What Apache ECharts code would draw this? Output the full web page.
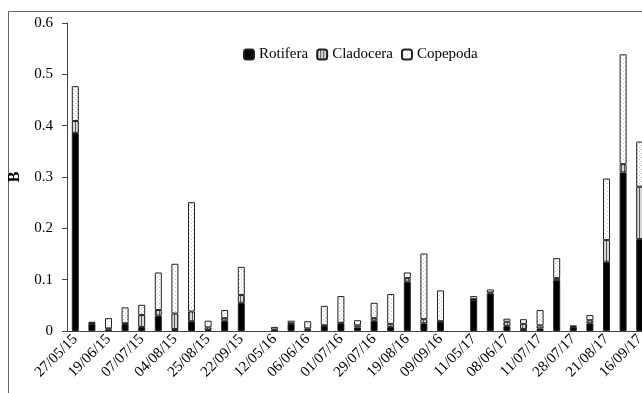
<!DOCTYPE html>
<html>
<head>
<meta charset="utf-8">
<script src="https://cdn.jsdelivr.net/npm/echarts@6/dist/echarts.min.js"></script>
<style>
html,body{margin:0;padding:0;background:#fff;}
#c{width:642px;height:393px;}
</style>
</head>
<body>
<div id="c"></div>
<script>
// Category labels (only every other date is printed in the reference)
const tickLabels = ['27/05/15','', '19/06/15','', '07/07/15','', '04/08/15','', '25/08/15','', '22/09/15','',
  '12/05/16','', '06/06/16','', '01/07/16','', '29/07/16','', '19/08/16','', '09/09/16','',
  '11/05/17','', '08/06/17','', '11/07/17','', '28/07/17','', '21/08/17','', '16/09/17'];
const rotifera  = [0.386,0.014,0.003,0.014,0.008,0.030,0.004,0.019,0.002,0.020,0.055,0,
  0.001,0.014,0.002,0.010,0.015,0.007,0.020,0.008,0.096,0.015,0.018,0,
  0.061,0.073,0.010,0.004,0.005,0.099,0.007,0.015,0.135,0.309,0.179];
const cladocera = [0.023,0.001,0.002,0.001,0.023,0.011,0.030,0.019,0.005,0.005,0.015,0,
  0.002,0.001,0.003,0.001,0.001,0.004,0.005,0.006,0.007,0.008,0.001,0,
  0.001,0.002,0.008,0.010,0.006,0.004,0.001,0.006,0.042,0.016,0.102];
const copepoda  = [0.068,0.003,0.020,0.031,0.020,0.073,0.097,0.213,0.013,0.016,0.055,0,
  0.005,0.005,0.014,0.038,0.052,0.010,0.030,0.058,0.011,0.128,0.060,0,
  0.006,0.006,0.006,0.009,0.030,0.039,0.003,0.010,0.120,0.214,0.088];
const yTicks = [0,0.1,0.2,0.3,0.4,0.5,0.6];

function stripePattern(){
  const c=document.createElement('canvas'); c.width=3; c.height=3;
  const g=c.getContext('2d');
  g.fillStyle='#d8d8d8'; g.fillRect(0,0,3,3);
  g.fillStyle='#555'; g.fillRect(0,0,1,3);
  return {image:c, repeat:'repeat'};
}
function dotPattern(){
  const c=document.createElement('canvas'); c.width=4; c.height=4;
  const g=c.getContext('2d');
  g.fillStyle='#fff'; g.fillRect(0,0,4,4);
  g.fillStyle='#bbb'; g.fillRect(1,1,1,1); g.fillRect(3,3,1,1);
  return {image:c, repeat:'repeat'};
}
const nz = arr => arr.map(v => v === 0 ? '-' : v);

const serif='"Liberation Serif","DejaVu Serif",serif';
const chart=echarts.init(document.getElementById('c'),null,{renderer:'canvas'});
const border={borderColor:'#222',borderWidth:1};
chart.setOption({
  animation:false,
  backgroundColor:'#fff',
  graphic:[{type:'rect',shape:{x:8.5,y:11.5,width:800,height:500},style:{fill:null,stroke:'#666',lineWidth:1},z:-1}],
  grid:{left:67,top:23,bottom:62,right:-6,containLabel:false,outerBoundsMode:'none'},
  legend:{left:238,top:42,itemWidth:10,itemHeight:10,itemGap:8,
    textStyle:{fontFamily:serif,fontSize:15,color:'#000'},
    data:['Rotifera','Cladocera','Copepoda']},
  xAxis:{type:'category',data:tickLabels,
    axisLine:{lineStyle:{color:'#444',width:1}},
    axisTick:{interval:0,length:5,lineStyle:{color:'#444'}},
    axisLabel:{interval:0,rotate:45,fontFamily:serif,fontSize:15,color:'#000',margin:6}},
  yAxis:{type:'value',min:0,max:0.6,interval:0.1,name:'B',nameLocation:'middle',nameGap:36,
    nameTextStyle:{fontFamily:serif,fontSize:16,fontWeight:'bold',color:'#000'},
    axisLine:{show:true,lineStyle:{color:'#444'}},
    axisTick:{show:true,length:5,lineStyle:{color:'#444'}},
    splitLine:{show:false},
    axisLabel:{fontFamily:serif,fontSize:15,color:'#000',margin:14,
      formatter:v=>{const t=yTicks.find(x=>Math.abs(x-v)<1e-9);return t===0?'0':String(+(t!==undefined?t:v).toFixed(1));}}},
  series:[
    {name:'Rotifera',type:'bar',stack:'a',barWidth:7,data:nz(rotifera),itemStyle:Object.assign({color:'#000'},border)},
    {name:'Cladocera',type:'bar',stack:'a',barWidth:7,data:nz(cladocera),itemStyle:Object.assign({color:stripePattern()},border)},
    {name:'Copepoda',type:'bar',stack:'a',barWidth:7,data:nz(copepoda),itemStyle:Object.assign({color:dotPattern()},border)}
  ]
});
</script>
</body>
</html>
